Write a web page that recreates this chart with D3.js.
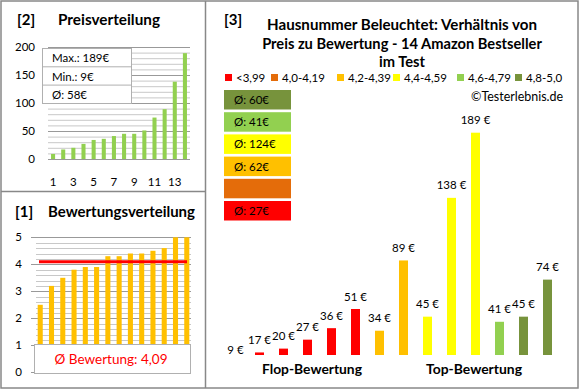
<!DOCTYPE html>
<html>
<head>
<meta charset="utf-8">
<script src="https://cdn.jsdelivr.net/npm/d3@7"></script>
<style>
  body { margin: 0; background: #fff; }
  svg { display: block; font-family: Lato, "Open Sans", sans-serif; }
</style>
</head>
<body>
<div class="graph"></div>
<script>
// chart data
const priceSorted = [9, 17, 20, 27, 34, 36, 41, 45, 45, 51, 74, 89, 138, 189]
const priceTicks = [0, 50, 100, 150, 200]
const priceXLabels = [1, 3, 5, 7, 9, 11, 13]
const priceInfo = ['Max.: 189€', 'Min.: 9€', 'Ø: 58€']

const ratingSorted = [2.5, 3.2, 3.5, 3.8, 3.9, 3.9, 4.3, 4.3, 4.4, 4.4, 4.5, 4.6, 5.0, 5.0]
const ratingTicks = [0, 1, 2, 3, 4, 5]
const ratingAvg = 4.09
const ratingAvgLabel = 'Ø Bewertung: 4,09'

const groupNames = ['<3,99', '4,0-4,19', '4,2-4,39', '4,4-4,59', '4,6-4,79', '4,8-5,0']
const groupColors = ['#ff0000', '#e46c0a', '#ffc000', '#ffff00', '#92d050', '#77933c']
const barPrices = [9, 17, 20, 27, 36, 51, 34, 89, 45, 138, 189, 41, 45, 74]
const barGroups = [0, 0, 0, 0, 0, 0, 2, 2, 3, 3, 3, 4, 5, 5]
const avgBoxGroups = [5, 4, 3, 2, 1, 0]
const avgBoxLabels = ['Ø: 60€', 'Ø: 41€', 'Ø: 124€', 'Ø: 62€', '', 'Ø: 27€']
const titleLines = ['Hausnummer Beleuchtet: Verhältnis von', 'Preis zu Bewertung - 14 Amazon Bestseller', 'im Test']

const W = 580, H = 390
const svg = d3.select('.graph').append('svg').attr('width', W).attr('height', H)
svg.append('rect').attr('width', W).attr('height', H).attr('fill', '#fff')

const idx = d3.range(14)

// scale font size so the text gets the width seen in the picture
const fit = (sel, w) => {
  const fs = parseFloat(sel.attr('font-size'))
  const len = sel.node().getComputedTextLength()
  if (len > 0) sel.attr('font-size', (fs * w / len).toFixed(2))
  return sel
}

/* ---------- [2] Preisverteilung ---------- */
const x2 = d3.scaleBand().domain(idx).range([48, 190]).paddingInner(0.6).paddingOuter(0.3)
const y2 = d3.scaleLinear().domain([0, 200]).range([159, 47])

svg.append('g').selectAll('line')
  .data(d3.range(0, 201, 10))
  .join('line')
  .attr('x1', 48).attr('x2', 190)
  .attr('y1', d => y2(d) + 0.5).attr('y2', d => y2(d) + 0.5)
  .attr('stroke', d => d % 50 == 0 ? '#999' : '#c8c8c8')
  .attr('stroke-width', 1)

svg.append('g').selectAll('rect')
  .data(priceSorted)
  .join('rect')
  .attr('x', (d, i) => x2(i))
  .attr('width', x2.bandwidth())
  .attr('y', d => y2(d))
  .attr('height', d => y2(0) - y2(d))
  .attr('fill', '#92d050')

svg.append('g').selectAll('text')
  .data(priceTicks)
  .join('text')
  .attr('x', 35).attr('y', d => y2(d) + 4)
  .attr('text-anchor', 'end')
  .attr('font-size', 11.5)
  .text(d => d)

svg.append('g').selectAll('text')
  .data(priceXLabels)
  .join('text')
  .attr('x', d => x2(d - 1) + x2.bandwidth() / 2)
  .attr('y', 186)
  .attr('text-anchor', 'middle')
  .attr('font-size', 11.5)
  .text(d => d)

//info box
const info = svg.append('g')
info.append('rect').attr('x', 42.5).attr('y', 48.5).attr('width', 89).attr('height', 55)
  .attr('fill', '#fff').attr('stroke', '#b0b0b0')
info.selectAll('line').data([1, 2]).join('line')
  .attr('x1', 42.5).attr('x2', 131.5)
  .attr('y1', d => 48.5 + d * 18.3).attr('y2', d => 48.5 + d * 18.3)
  .attr('stroke', '#b0b0b0')
info.selectAll('text').data(priceInfo).join('text')
  .attr('x', 52).attr('y', (d, i) => 62 + i * 18.5)
  .attr('font-size', 11.5)
  .text(d => d)

svg.append('text').attr('x', 17).attr('y', 25).attr('font-size', 15).attr('font-weight', 'bold').text('[2]')
fit(svg.append('text').attr('x', 58).attr('y', 25).attr('font-size', 13).attr('font-weight', 'bold').text('Preisverteilung'), 102)

/* ---------- [1] Bewertungsverteilung ---------- */
const x1 = d3.scaleBand().domain(idx).range([36, 191]).paddingInner(0.55).paddingOuter(0.15)
const y1 = d3.scaleLinear().domain([0, 5]).range([372.3, 237.3])

svg.append('g').selectAll('line')
  .data(d3.range(0, 26).map(d => d / 5))
  .join('line')
  .attr('x1', (d, i) => i % 5 == 0 ? 31 : 36).attr('x2', 191)
  .attr('y1', d => Math.round(y1(d)) + 0.5).attr('y2', d => Math.round(y1(d)) + 0.5)
  .attr('stroke', (d, i) => i % 5 == 0 ? '#999' : '#c8c8c8')

svg.append('g').selectAll('rect')
  .data(ratingSorted)
  .join('rect')
  .attr('x', (d, i) => x1(i))
  .attr('width', x1.bandwidth())
  .attr('y', d => y1(d))
  .attr('height', d => y1(0) - y1(d))
  .attr('fill', '#ffc000')

svg.append('line')
  .attr('x1', 39).attr('x2', 187)
  .attr('y1', y1(ratingAvg)).attr('y2', y1(ratingAvg))
  .attr('stroke', '#ff0000').attr('stroke-width', 3)

svg.append('g').selectAll('text')
  .data(ratingTicks)
  .join('text')
  .attr('x', 22).attr('y', d => y1(d) + 4)
  .attr('text-anchor', 'end')
  .attr('font-size', 11.5)
  .text(d => d)

svg.append('rect').attr('x', 34.5).attr('y', 344.5).attr('width', 156).attr('height', 29)
  .attr('fill', '#fff').attr('stroke', '#b0b0b0')
fit(svg.append('text').attr('x', 111).attr('y', 364).attr('text-anchor', 'middle')
  .attr('font-size', 14).attr('fill', '#ff0000').text(ratingAvgLabel), 113)

svg.append('text').attr('x', 15).attr('y', 217).attr('font-size', 15).attr('font-weight', 'bold').text('[1]')
fit(svg.append('text').attr('x', 48).attr('y', 217).attr('font-size', 13).attr('font-weight', 'bold').text('Bewertungsverteilung'), 147)

/* ---------- [3] Preis zu Bewertung ---------- */
svg.append('text').attr('x', 224).attr('y', 25).attr('font-size', 15).attr('font-weight', 'bold').text('[3]')
const titleWidths = [270, 280, 46]
svg.append('g').selectAll('text')
  .data(titleLines)
  .join('text')
  .attr('x', 402).attr('y', (d, i) => 30 + i * 18.5)
  .attr('text-anchor', 'middle')
  .attr('font-size', 13).attr('font-weight', 'bold')
  .text(d => d)
  .each(function (d, i) { fit(d3.select(this), titleWidths[i]) })

//legend row
const legX = [225, 271, 337, 393, 457, 515]
const leg = svg.append('g').selectAll('g')
  .data(groupNames)
  .join('g')
  .attr('transform', (d, i) => `translate(${legX[i]},74)`)
leg.append('rect').attr('width', 7).attr('height', 7).attr('fill', (d, i) => groupColors[i])
leg.append('text').attr('x', 11).attr('y', 8).attr('font-size', 11.5).text(d => d)

//average boxes
const avg = svg.append('g').selectAll('g')
  .data(avgBoxLabels)
  .join('g')
  .attr('transform', (d, i) => `translate(224,${90 + i * 22.2})`)
avg.append('rect').attr('width', 67).attr('height', 19.5).attr('fill', (d, i) => groupColors[avgBoxGroups[i]])
avg.append('text').attr('x', 10).attr('y', 14).attr('font-size', 11.5).text(d => d)

fit(svg.append('text').attr('x', 563).attr('y', 101).attr('text-anchor', 'end').attr('font-size', 11.5).text('©Testerlebnis.de'), 92)

const x3 = d3.scaleBand().domain(idx).range([223.5, 559.5]).paddingInner(0.625).paddingOuter(0.3125)
const y3 = d3.scaleLinear().domain([15, 189]).range([355, 132.7])

svg.append('g').selectAll('rect')
  .data(barPrices)
  .join('rect')
  .attr('x', (d, i) => x3(i))
  .attr('width', x3.bandwidth())
  .attr('y', d => Math.min(y3(d), y3(15)))
  .attr('height', d => Math.max(0, y3(15) - y3(d)))
  .attr('fill', (d, i) => groupColors[barGroups[i]])

svg.append('g').selectAll('text')
  .data(barPrices)
  .join('text')
  .attr('x', (d, i) => x3(i) + x3.bandwidth() / 2)
  .attr('y', d => y3(d) - 8.5)
  .attr('text-anchor', 'middle')
  .attr('font-size', 11.5)
  .text(d => d + ' €')

fit(svg.append('text').attr('x', 312).attr('y', 374).attr('text-anchor', 'middle')
  .attr('font-size', 13).attr('font-weight', 'bold').text('Flop-Bewertung'), 100)
fit(svg.append('text').attr('x', 474).attr('y', 374).attr('text-anchor', 'middle')
  .attr('font-size', 13).attr('font-weight', 'bold').text('Top-Bewertung'), 96)

/* ---------- panel borders ---------- */
const frame = svg.append('g').attr('stroke', '#888').attr('stroke-width', 1.5).attr('fill', 'none')
frame.append('rect').attr('x', 1).attr('y', 1).attr('width', 577).attr('height', 387)
frame.append('line').attr('x1', 205.5).attr('x2', 205.5).attr('y1', 1).attr('y2', 388)
frame.append('line').attr('x1', 1).attr('x2', 205.5).attr('y1', 191.5).attr('y2', 191.5)
</script>
</body>
</html>
